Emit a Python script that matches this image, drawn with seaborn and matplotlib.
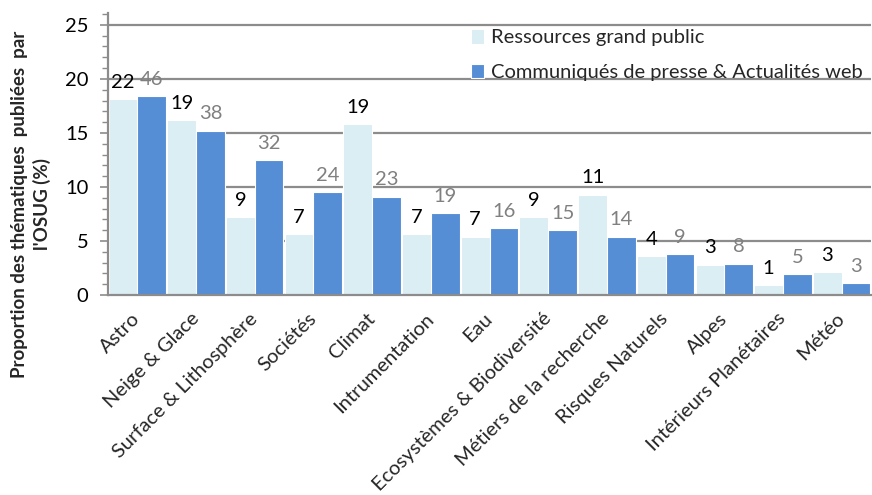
import matplotlib
matplotlib.use("Agg")
import matplotlib.pyplot as plt
import seaborn as sns
import pandas as pd
from matplotlib.ticker import MultipleLocator

categories = ["Astro", "Neige & Glace", "Surface & Lithosphère", "Sociétés", "Climat",
              "Intrumentation", "Eau", "Ecosystèmes & Biodiversité", "Métiers de la recherche",
              "Risques Naturels", "Alpes", "Intérieurs Planétaires", "Météo"]
series_names = ["Ressources grand public", "Communiqués de presse & Actualités web"]
grand_public_pct = [18.1, 16.2, 7.2, 5.6, 15.8, 5.6, 5.4, 7.2, 9.3, 3.6, 2.8, 0.9, 2.1]
presse_pct = [18.4, 15.2, 12.5, 9.5, 9.1, 7.6, 6.2, 6.0, 5.4, 3.8, 2.9, 1.9, 1.1]
grand_public_n = [22, 19, 9, 7, 19, 7, 7, 9, 11, 4, 3, 1, 3]
presse_n = [46, 38, 32, 24, 23, 19, 16, 15, 14, 9, 8, 5, 3]

df = pd.DataFrame({
    "cat": categories * 2,
    "serie": [series_names[0]] * len(categories) + [series_names[1]] * len(categories),
    "val": grand_public_pct + presse_pct,
})

sns.set_theme(style="white")
plt.rcParams['font.family'] = ['Lato', 'DejaVu Sans']

FS = 14.5
fig = plt.figure(figsize=(8.72, 4.95), dpi=100)
ax = fig.add_axes([108 / 872, 1 - 295 / 495, (871 - 108) / 872, (295 - 13) / 495])

sns.barplot(data=df, x="cat", y="val", hue="serie", order=categories, hue_order=series_names,
            palette=["#DBEEF4", "#558ED5"], width=0.98, edgecolor="white", linewidth=0.8,
            saturation=1, ax=ax, legend=True)

ax.set_xlim(-0.5, len(categories) - 0.5)
ax.set_ylim(0, 26.1)
ax.yaxis.set_major_locator(MultipleLocator(5))
ax.yaxis.set_minor_locator(MultipleLocator(1))
ax.set_axisbelow(True)
ax.yaxis.grid(True, which="major", color="#8C8C8C", linewidth=1.6)
ax.xaxis.grid(False)
for s in ["top", "right"]:
    ax.spines[s].set_visible(False)
for s in ["left", "bottom"]:
    ax.spines[s].set_color("#8C8C8C")
    ax.spines[s].set_linewidth(1.6)
ax.tick_params(axis="y", which="major", left=True, length=6, width=1.2, color="#8C8C8C",
               labelsize=FS, pad=8, labelcolor="#000000")
ax.tick_params(axis="y", which="minor", left=True, length=4, width=1.0, color="#8C8C8C")
ax.tick_params(axis="x", bottom=False, labelsize=FS, pad=9)
ax.set_xlabel("")
ax.set_ylabel("")
ax.set_yticks([0, 5, 10, 15, 20, 25])
ax.set_yticklabels(["0", "5", "10", "15", "20", "25"])
ax.set_xticks(range(len(categories)))
ax.set_xticklabels(categories, rotation=45, ha="right", va="center", rotation_mode="anchor")
for lbl in ax.get_xticklabels():
    lbl.set_x(lbl.get_position()[0])

conts = ax.containers
ax.bar_label(conts[0], labels=[str(v) for v in grand_public_n], padding=6, fontsize=FS, color="#000000")
ax.bar_label(conts[1], labels=[str(v) for v in presse_n], padding=6, fontsize=FS, color="#808080")

leg = ax.get_legend()
handles = leg.legend_handles
leg.remove()
ax.legend(handles, series_names, loc="upper left", bbox_to_anchor=(463 / 872, 1 - 21 / 495),
          bbox_transform=fig.transFigure, frameon=False, fontsize=FS, handlelength=0.65,
          handleheight=0.75, handletextpad=0.35, labelspacing=0.85, borderaxespad=0)

fig.text(31 / 872, 1 - 204 / 495, "Proportion des thématiques  publiées  par\nl'OSUG (%)",
         rotation=90, ha="center", va="center", multialignment="center",
         fontsize=13.5, fontweight="bold", linespacing=1.3)

fig.savefig("out.png", dpi=100)
